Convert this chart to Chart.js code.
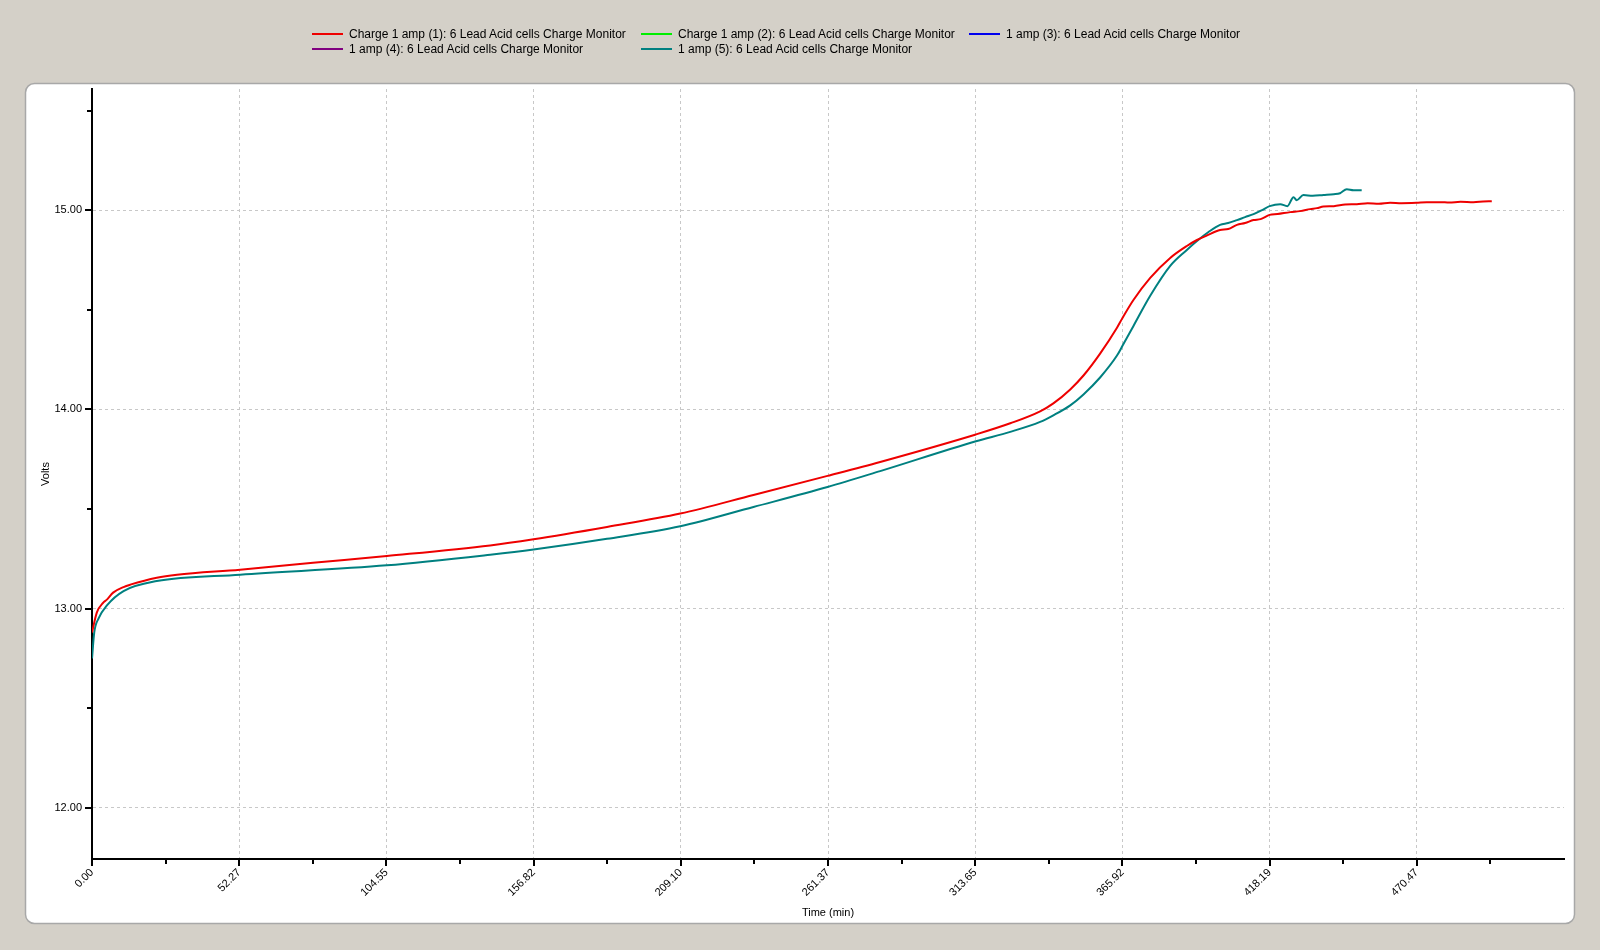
<!DOCTYPE html>
<html>
<head>
<meta charset="utf-8">
<script src="https://cdn.jsdelivr.net/npm/chart.js@4/dist/chart.umd.min.js"></script>
<style>
  body { margin: 0; background: #d4d0c8; }
  #wrap { position: relative; width: 1600px; height: 950px; }
  .leg { position: absolute; font: 12px "Liberation Sans", Arial, sans-serif; color: #000; white-space: nowrap; }
  .leg span { display: inline-block; width: 31px; height: 2px; vertical-align: middle; margin-right: 6px; position: relative; top: -1px; }
</style>
</head>
<body>
<div id="wrap">
  <canvas id="myChart" width="1600" height="950"></canvas>
  <div id="legend"></div>
</div>
<script>
// Series names and colours
var seriesNames = [
  'Charge 1 amp (1): 6 Lead Acid cells Charge Monitor',
  'Charge 1 amp (2): 6 Lead Acid cells Charge Monitor',
  '1 amp (3): 6 Lead Acid cells Charge Monitor',
  '1 amp (4): 6 Lead Acid cells Charge Monitor',
  '1 amp (5): 6 Lead Acid cells Charge Monitor'
];
var seriesColors = ['#ee0000', '#00ee00', '#0000ee', '#800080', '#008080'];

// Series 1 (red)
var redTime = [0, 1.7, 4.0, 5.3, 7.5, 11.2, 13.6, 23.0, 30.2, 52.6, 78.5, 104.7, 141.4, 156.8, 182.9, 208.9,
  234.9, 261.2, 279.9, 313.9, 326.1, 336.7, 341.4, 347.4, 352.1, 358.0, 364.0, 366.0, 369.9, 375.8,
  382.9, 388.8, 392.4, 396.0, 400.6, 403.5, 406.6, 409.5, 412.5, 415.0, 418.2, 421.0, 425.5, 429.0,
  432.6, 435.0, 437.3, 441.0, 445.0, 449.2, 453.0, 457.0, 461.0, 465.0, 470.3, 474.0, 478.8, 482.0,
  486.0, 490.6, 494.0, 497.1];
var redVolts = [12.88, 12.98, 13.03, 13.045, 13.08, 13.108, 13.12, 13.155, 13.17, 13.195, 13.23, 13.264, 13.317, 13.348, 13.41, 13.477,
  13.57, 13.666, 13.736, 13.874, 13.93, 13.99, 14.03, 14.10, 14.17, 14.28, 14.41, 14.46, 14.55, 14.66,
  14.76, 14.82, 14.85, 14.873, 14.90, 14.905, 14.926, 14.935, 14.95, 14.955, 14.976, 14.98, 14.99, 14.995,
  15.005, 15.01, 15.018, 15.02, 15.028, 15.03, 15.035, 15.032, 15.037, 15.035, 15.037, 15.04, 15.04, 15.038,
  15.042, 15.04, 15.043, 15.045];

// Series 5 (teal)
var tealTime = [0, 0.8, 2.3, 5.3, 11.2, 23.0, 52.6, 104.7, 141.4, 156.8, 182.9, 208.9, 234.9, 261.2, 279.9,
  313.9, 326.1, 336.7, 341.4, 347.4, 352.1, 358.0, 364.0, 366.0, 369.9, 375.8, 382.9, 388.8, 392.4,
  396.5, 400.6, 403.5, 406.6, 409.5, 412.5, 415.5, 418.2, 422.0, 424.5, 426.7, 427.8, 430.2, 433.5,
  437.3, 441.0, 443.2, 445.6, 448.0, 450.9];
var tealVolts = [12.75, 12.88, 12.95, 13.016, 13.088, 13.138, 13.17, 13.217, 13.27, 13.296, 13.35, 13.413, 13.51, 13.61, 13.69,
  13.84, 13.887, 13.937, 13.97, 14.02, 14.075, 14.16, 14.27, 14.32, 14.42, 14.57, 14.72, 14.80, 14.845,
  14.89, 14.926, 14.935, 14.95, 14.965, 14.98, 15.0, 15.02, 15.03, 15.02, 15.065, 15.05, 15.076, 15.072,
  15.076, 15.08, 15.085, 15.105, 15.1, 15.1];

// Axis ticks
var xTickLabels = ['0.00', '52.27', '104.55', '156.82', '209.10', '261.37', '313.65', '365.92', '418.19', '470.47'];
var xStep = 52.2744;
var xMax = 522.744;
var yTickLabels = ['12.00', '13.00', '14.00', '15.00'];
var yMin = 11.743;
var yMax = 15.608;

function toPoints(xs, ys) {
  var pts = [];
  for (var i = 0; i < xs.length; i++) pts.push({ x: xs[i], y: ys[i] });
  return pts;
}

var datasets = [
  { label: seriesNames[0], data: toPoints(redTime, redVolts) },
  { label: seriesNames[1], data: [] },
  { label: seriesNames[2], data: [] },
  { label: seriesNames[3], data: [] },
  { label: seriesNames[4], data: toPoints(tealTime, tealVolts) }
].map(function (d, i) {
  d.borderColor = seriesColors[i];
  d.backgroundColor = seriesColors[i];
  d.borderWidth = 2;
  d.pointRadius = 0;
  d.fill = false;
  d.cubicInterpolationMode = 'monotone';
  return d;
});

// HTML legend laid out in 3 columns like the original
var legCols = [312, 641, 969];
var legRows = [27, 42];
var legend = document.getElementById('legend');
seriesNames.forEach(function (name, i) {
  var el = document.createElement('div');
  el.className = 'leg';
  el.style.left = legCols[i % 3] + 'px';
  el.style.top = legRows[Math.floor(i / 3)] + 'px';
  el.innerHTML = '<span style="background:' + seriesColors[i] + '"></span>' + name;
  legend.appendChild(el);
});

// White rounded panel + axis tick marks
var panelPlugin = {
  id: 'panel',
  beforeDraw: function (chart) {
    var c = chart.ctx;
    c.save();
    c.fillStyle = '#ffffff';
    c.strokeStyle = '#a8a8a8';
    c.lineWidth = 1.5;
    c.beginPath();
    c.roundRect(25.5, 83.5, 1549, 840, 9);
    c.fill();
    c.stroke();
    c.restore();
  },
  afterDraw: function (chart) {
    var c = chart.ctx;
    var xs = chart.scales.x, ys = chart.scales.y;
    c.save();
    c.strokeStyle = '#000';
    c.lineWidth = 2;
    c.beginPath();
    xs.ticks.forEach(function (t, i) {
      var px = Math.round(xs.getPixelForValue(t.value));
      var len = i % 2 === 0 ? 7 : 5;
      c.moveTo(px, xs.top);
      c.lineTo(px, xs.top + len);
    });
    ys.ticks.forEach(function (t, i) {
      var py = Math.round(ys.getPixelForValue(t.value));
      var len = i % 2 === 0 ? 7 : 5;
      c.moveTo(ys.right - len, py);
      c.lineTo(ys.right, py);
    });
    c.stroke();
    c.restore();
  }
};

var ctx = document.getElementById('myChart').getContext('2d');
var myChart = new Chart(ctx, {
  type: 'line',
  data: { datasets: datasets },
  plugins: [panelPlugin],
  options: {
    responsive: false,
    animation: false,
    devicePixelRatio: 1,
    layout: { padding: { left: 35, top: 89, right: 36, bottom: 26 } },
    plugins: { legend: { display: false }, tooltip: { enabled: false } },
    scales: {
      x: {
        type: 'linear',
        min: 0,
        max: xMax,
        afterFit: function (s) { s.height = 65; },
        afterBuildTicks: function (s) {
          var t = [];
          for (var i = 0; i < 20; i++) t.push({ value: i * xStep / 2 });
          s.ticks = t;
        },
        ticks: {
          autoSkip: false,
          minRotation: 45,
          maxRotation: 45,
          padding: 7,
          color: '#000',
          font: { family: '"Liberation Sans", Arial, sans-serif', size: 11 },
          callback: function (v, i) { return i % 2 === 0 ? xTickLabels[i / 2] : ''; }
        },
        grid: {
          drawTicks: false,
          color: function (c) { return (c.index % 2 === 0 && c.index > 0) ? '#c8c8c8' : 'rgba(0,0,0,0)'; },
          lineWidth: 1
        },
        border: { color: '#000', width: 2, dash: [3, 3] },
        title: {
          display: true, text: 'Time (min)', color: '#000', padding: { top: 0, bottom: 4 },
          font: { family: '"Liberation Sans", Arial, sans-serif', size: 11 }
        }
      },
      y: {
        min: yMin,
        max: yMax,
        afterFit: function (s) { s.width = 57; },
        afterBuildTicks: function (s) {
          var t = [];
          for (var v = 12; v <= 15.5; v += 0.5) t.push({ value: v });
          s.ticks = t;
        },
        ticks: {
          padding: 10,
          color: '#000',
          font: { family: '"Liberation Sans", Arial, sans-serif', size: 11 },
          callback: function (v, i) { return i % 2 === 0 ? yTickLabels[i / 2] : ''; }
        },
        grid: {
          drawTicks: false,
          color: function (c) { return (c.index % 2 === 0) ? '#c8c8c8' : 'rgba(0,0,0,0)'; },
          lineWidth: 1
        },
        border: { color: '#000', width: 2, dash: [3, 3] },
        title: {
          display: true, text: 'Volts', color: '#000', padding: { top: 4, bottom: 0 },
          font: { family: '"Liberation Sans", Arial, sans-serif', size: 11 }
        }
      }
    }
  }
});
</script>
</body>
</html>
